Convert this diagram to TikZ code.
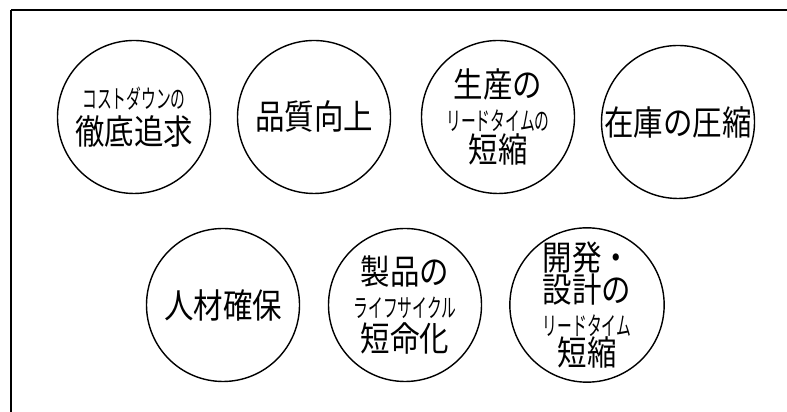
\documentclass[tikz,border=0pt]{standalone}
\usepackage{fontspec}
\newfontfamily\jpbig[FakeStretch=0.86]{Noto Sans CJK JP}
\newfontfamily\jpsmall[FakeStretch=0.58]{Noto Sans CJK JP}
\newcommand{\bigline}{\jpbig\fontsize{19.5}{18.5}\selectfont}
\newcommand{\smallline}{\jpsmall\fontsize{14.5}{18.5}\selectfont}
\usetikzlibrary{positioning}

\tikzset{
    goal/.style={draw, circle, line width=0.8pt, minimum size=3.06cm, inner sep=0pt, align=center, font=\bigline},
}

\begin{document}
\begin{tikzpicture}
    \useasboundingbox (0,0) rectangle (15.74,8.24);
        % frame (only top and left edge are visible)
        \coordinate (fbl) at (0.22,0);
        \coordinate (ftl) at (0.22,8.04);
        \coordinate (ftr) at (15.74,8.04);
        \draw[line width=0.6pt] (fbl) -- (ftl);
        \draw[line width=0.9pt] (ftl) -- (ftr);

        % upper row
        \node[goal] (cost) at (2.68,5.9) {{\smallline コストダウンの}\\[2pt]徹底追求};
        \node[goal] (quality) at (6.28,5.9) {品質向上};
        \node[goal] (prodlead) at (9.96,5.9) {生産の\\{\smallline リードタイムの}\\短縮};
        \node[goal] (stock) at (13.56,5.8) {在庫の圧縮};

        % lower row
        \node[goal] (staff) at (4.46,2.14) {人材確保};
        \node[goal] (lifecycle) at (8.10,2.14) {製品の\\{\smallline ライフサイクル}\\[1pt]短命化};
        \node[goal] (devlead) at (11.74,2.14) {開発・\\設計の\\{\smallline リードタイム}\\[-1pt]短縮};
    \end{tikzpicture}
\end{document}
